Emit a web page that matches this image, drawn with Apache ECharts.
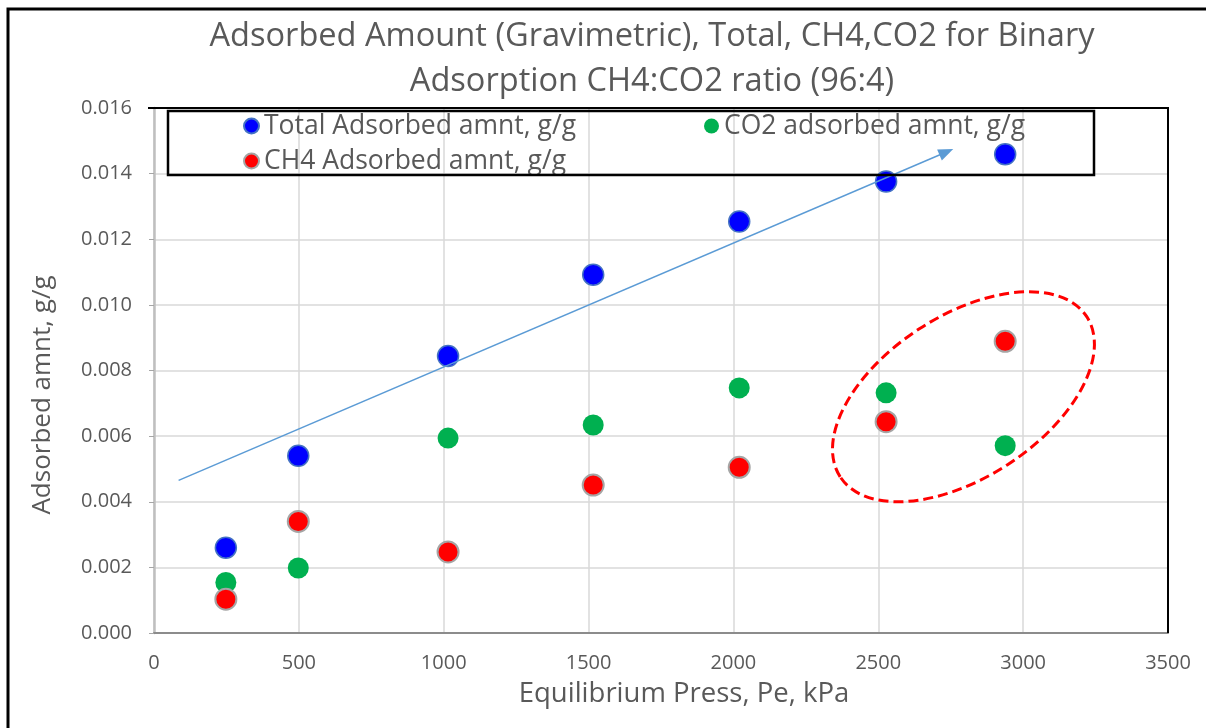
<!DOCTYPE html>
<html>
<head>
<meta charset="utf-8">
<script src="https://cdn.jsdelivr.net/npm/echarts@6/dist/echarts.min.js"></script>
<style>
html,body{margin:0;padding:0;background:#fff;}
#chart{width:1206px;height:728px;}
</style>
</head>
<body>
<div id="chart"></div>
<script>
const pressure = [248, 498, 1015, 1516, 2020, 2527, 2938];
const totalAds = [0.0026, 0.0054, 0.00844, 0.01092, 0.01254, 0.01376, 0.01459];
const co2Ads = [0.00154, 0.00198, 0.00594, 0.00634, 0.00747, 0.00732, 0.00571];
const ch4Ads = [0.00103, 0.0034, 0.00247, 0.00451, 0.00505, 0.00644, 0.00889];
const xTicks = [0, 500, 1000, 1500, 2000, 2500, 3000, 3500];
const yTicks = [0, 0.002, 0.004, 0.006, 0.008, 0.010, 0.012, 0.014, 0.016];
const titleLines = ['Adsorbed Amount (Gravimetric), Total, CH4,CO2 for Binary', 'Adsorption CH4:CO2 ratio (96:4)'];
const seriesNames = ['Total Adsorbed amnt, g/g', 'CO2 adsorbed amnt, g/g', 'CH4 Adsorbed amnt, g/g'];
const xAxisName = 'Equilibrium Press, Pe, kPa';
const yAxisName = 'Adsorbed amnt, g/g';
const trendStart = [85, 0.00465];
const trendEnd = [2735, 0.01466];
const ellipseCenter = [2794, 0.0072];

const FONT = '"Open Sans", "Noto Sans", sans-serif';
const GRAY = '#595959';

function pairs(ys) { return pressure.map((x, i) => [x, ys[i]]); }

const chart = echarts.init(document.getElementById('chart'), null, {renderer: 'canvas'});

const legendCommon = {
  orient: 'horizontal', padding: 0, itemWidth: 15, itemHeight: 15, icon: 'circle',
  textStyle: {fontFamily: FONT, fontSize: 26.5, color: GRAY, lineHeight: 30},
  selectedMode: false
};

const option = {
  animation: false,
  backgroundColor: '#fff',
  textStyle: {fontFamily: FONT},
  grid: {left: 154, top: 108, width: 1014, height: 525, show: false, containLabel: false},
  legend: [
    Object.assign({}, legendCommon, {data: [seriesNames[0]], left: 243, top: 111}),
    Object.assign({}, legendCommon, {data: [seriesNames[1]], left: 704, top: 111}),
    Object.assign({}, legendCommon, {data: [seriesNames[2]], left: 243, top: 146})
  ],
  xAxis: {
    type: 'value', min: xTicks[0], max: xTicks[xTicks.length - 1], interval: 500,
    name: xAxisName, nameLocation: 'middle', nameGap: 47,
    nameTextStyle: {fontFamily: FONT, fontSize: 27.5, color: GRAY, padding: [0, 0, 0, 46]},
    axisLine: {show: true, lineStyle: {color: '#8C8C8C', width: 2}},
    axisTick: {show: false},
    axisLabel: {fontFamily: FONT, fontSize: 20, color: GRAY, margin: 20,
      formatter: v => String(v)},
    splitLine: {show: true, lineStyle: {color: '#D9D9D9', width: 1.5}}
  },
  yAxis: {
    type: 'value', min: yTicks[0], max: yTicks[yTicks.length - 1], interval: 0.002,
    axisLine: {show: true, lineStyle: {color: '#BFBFBF', width: 2.5}},
    axisTick: {show: true, inside: false, length: 5, lineStyle: {color: '#A6A6A6', width: 1}},
    axisLabel: {fontFamily: FONT, fontSize: 20, color: GRAY, margin: 22,
      formatter: v => v.toFixed(3)},
    splitLine: {show: true, lineStyle: {color: '#D9D9D9', width: 1.5}}
  },
  series: [
    {
      name: seriesNames[0], type: 'scatter', data: pairs(totalAds), symbolSize: 21,
      itemStyle: {color: '#0000FF', borderColor: '#4472C4', borderWidth: 1.5, opacity: 1},
      z: 3,
      markLine: {
        silent: true, animation: false,
        symbol: ['none', 'triangle'], symbolSize: [12, 15],
        label: {show: false},
        lineStyle: {color: '#5B9BD5', width: 1.5, type: 'solid'},
        emphasis: {disabled: true},
        data: [[{coord: trendStart}, {coord: trendEnd}]]
      }
    },
    {
      name: seriesNames[1], type: 'scatter', data: pairs(co2Ads), symbolSize: 21,
      itemStyle: {color: '#00B050', opacity: 1}, z: 4
    },
    {
      name: seriesNames[2], type: 'scatter', data: pairs(ch4Ads), symbolSize: 21,
      itemStyle: {color: '#FF0000', borderColor: '#A5A5A5', borderWidth: 2, opacity: 1}, z: 5
    }
  ]
};

chart.setOption(option);

const tl = chart.convertToPixel({gridIndex: 0}, [xTicks[0], yTicks[yTicks.length - 1]]);
const br = chart.convertToPixel({gridIndex: 0}, [xTicks[xTicks.length - 1], yTicks[0]]);
const ec = chart.convertToPixel({gridIndex: 0}, ellipseCenter);

chart.setOption({
  graphic: [
    {type: 'rect', silent: true, z: 100, shape: {x: 8, y: 9, width: 1300, height: 800},
     style: {fill: 'none', stroke: '#000', lineWidth: 3}},
    {type: 'text', silent: true, z: 100, x: 652, y: 37,
     style: {text: titleLines[0], fill: GRAY, font: '32.6px ' + FONT, textAlign: 'center', textVerticalAlign: 'middle'}},
    {type: 'text', silent: true, z: 100, x: 652, y: 82,
     style: {text: titleLines[1], fill: GRAY, font: '32.6px ' + FONT, textAlign: 'center', textVerticalAlign: 'middle'}},
    {type: 'text', silent: true, z: 100, x: 43, y: 395, rotation: Math.PI / 2,
     style: {text: yAxisName, fill: GRAY, font: '26px ' + FONT, textAlign: 'center', textVerticalAlign: 'middle'}},
    {type: 'polyline', silent: true, z: 50,
     shape: {points: [[tl[0] - 6, tl[1]], [br[0], tl[1]], [br[0], br[1]]]},
     style: {stroke: '#000', lineWidth: 2, fill: 'none'}},
    {type: 'rect', silent: true, z: 50, shape: {x: 168, y: 111, width: 926, height: 64},
     style: {fill: 'none', stroke: '#000', lineWidth: 2.5}},
    {type: 'ellipse', silent: true, z: 60, x: ec[0], y: ec[1], rotation: 33 * Math.PI / 180,
     shape: {cx: 0, cy: 0, rx: 147, ry: 81},
     style: {fill: 'none', stroke: '#FF0000', lineWidth: 3, lineDash: [10, 5]}}
  ]
});
</script>
</body>
</html>
